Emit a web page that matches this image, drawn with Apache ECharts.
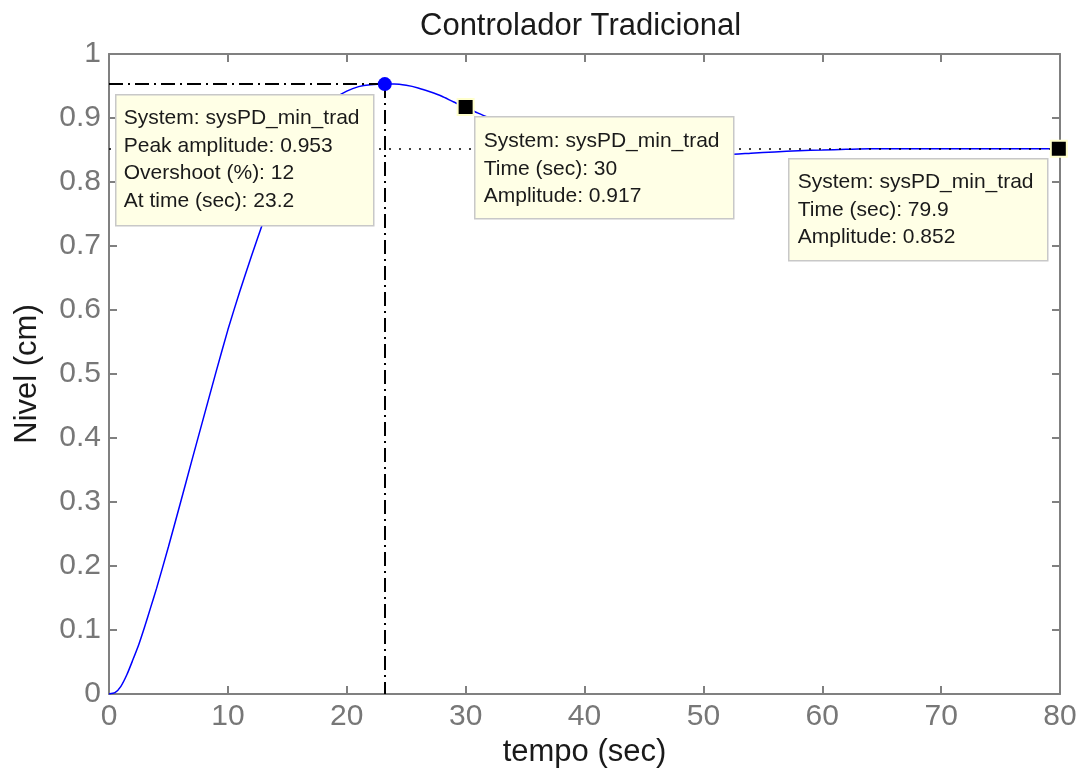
<!DOCTYPE html>
<html>
<head>
<meta charset="utf-8">
<title>Controlador Tradicional</title>
<script src="https://cdn.jsdelivr.net/npm/echarts@6/dist/echarts.min.js"></script>
<style>
  html, body { margin: 0; padding: 0; background: #fff; }
  #main { width: 1085px; height: 784px; }
</style>
</head>
<body>
<div id="main"></div>
<script>
// step response
var tempo = [0, 0.5, 1, 1.5, 2, 2.5, 3, 3.5, 4, 5, 6, 7, 8, 9, 10, 11, 12, 13, 14, 15,
  16, 17, 18, 19, 20, 21, 22, 23.2, 24, 25, 26, 27, 28, 29, 30, 31, 32, 33, 34, 35,
  36, 38, 40, 42, 44, 46, 48, 50, 52, 54, 56, 58, 60, 62, 64, 66, 70, 75, 79.9];
var nivel = [0, 0.002, 0.012, 0.03, 0.053, 0.077, 0.105, 0.135, 0.165, 0.23, 0.298, 0.367, 0.435, 0.503, 0.569, 0.629, 0.685, 0.739, 0.789, 0.832,
  0.866, 0.894, 0.915, 0.931, 0.942, 0.949, 0.952, 0.953, 0.953, 0.951, 0.947, 0.941, 0.934, 0.925, 0.917, 0.908, 0.9, 0.892, 0.884, 0.877,
  0.871, 0.861, 0.854, 0.849, 0.846, 0.844, 0.843, 0.843, 0.843, 0.845, 0.847, 0.849, 0.85, 0.851, 0.852, 0.852, 0.852, 0.852, 0.852];

var sysName = 'sysPD_min_trad';
var peakTime = 23.2;
var peakAmp = 0.953;
var overshoot = 12;
var finalValue = 0.852;
var tipTimes = [30, 79.9];
var tipAmps = [0.917, 0.852];

var xTicks = { min: 0, max: 80, interval: 10 };
var yTicks = { min: 0, max: 1, interval: 0.1 };

var lineData = [];
for (var i = 0; i < tempo.length; i++) {
  lineData.push([tempo[i], nivel[i]]);
}
var tipData = [];
for (var j = 0; j < tipTimes.length; j++) {
  tipData.push([tipTimes[j], tipAmps[j]]);
}

var FONT = '"Liberation Sans", Arial, sans-serif';
var axisGray = '#808080';
var labelGray = '#777';

function frameAxis(pos, showLabel, isX) {
  var ax = {
    type: 'value',
    position: pos,
    min: isX ? xTicks.min : yTicks.min,
    max: isX ? xTicks.max : yTicks.max,
    interval: isX ? xTicks.interval : yTicks.interval,
    axisLine: { show: true, onZero: false, lineStyle: { color: axisGray, width: 2 } },
    axisTick: { show: true, inside: true, length: 8, lineStyle: { color: axisGray, width: 2 } },
    splitLine: { show: false },
    axisLabel: {
      show: showLabel,
      fontFamily: FONT,
      fontSize: 30,
      color: labelGray,
      margin: 8
    }
  };
  return ax;
}

var xBottom = frameAxis('bottom', true, true);
xBottom.name = 'tempo (sec)';
xBottom.nameLocation = 'middle';
xBottom.nameGap = 42;
xBottom.nameTextStyle = { fontFamily: FONT, fontSize: 31, color: '#1a1a1a' };
var xTop = frameAxis('top', false, true);

var yLeft = frameAxis('left', true, false);
yLeft.name = 'Nivel (cm)';
yLeft.nameLocation = 'middle';
yLeft.nameGap = 66;
yLeft.nameTextStyle = { fontFamily: FONT, fontSize: 31, color: '#1a1a1a' };
var yRight = frameAxis('right', false, false);

function tipBox(left, top, w, h, lines, dx, dy) {
  return {
    type: 'group',
    left: left,
    top: top,
    z: 50,
    children: [
      {
        type: 'rect',
        shape: { x: 0, y: 0, width: w, height: h },
        style: { fill: '#ffffe6', stroke: '#c8c8c8', lineWidth: 1.5 },
        z: 50
      },
      {
        type: 'text',
        x: dx,
        y: dy,
        style: {
          text: lines.join('\n'),
          font: '21px ' + FONT,
          fill: '#1a1a1a',
          lineHeight: 27.5,
          verticalAlign: 'top'
        },
        z: 51
      }
    ]
  };
}

var chart = echarts.init(document.getElementById('main'));
chart.setOption({
  backgroundColor: '#fff',
  animation: false,
  title: {
    text: 'Controlador Tradicional',
    left: 415,
    top: 6,
    textStyle: { fontFamily: FONT, fontSize: 31, fontWeight: 'normal', color: '#1a1a1a' }
  },
  grid: { left: 109, right: 25, top: 54, bottom: 90 },
  xAxis: [xBottom, xTop],
  yAxis: [yLeft, yRight],
  series: [
    {
      type: 'line',
      data: lineData,
      showSymbol: false,
      smooth: 0.2,
      lineStyle: { color: '#0000ff', width: 1.5 },
      z: 3,
      markLine: {
        silent: true,
        symbol: 'none',
        label: { show: false },
        data: [
          [{ coord: [0, peakAmp] }, { coord: [peakTime, peakAmp] }],
          [{ coord: [peakTime, peakAmp] }, { coord: [peakTime, 0] }],
          [{ coord: [0, finalValue], lineStyle: { type: [2, 8], width: 1.5 } },
           { coord: [xTicks.max, finalValue] }]
        ],
        lineStyle: { color: '#000', width: 2, type: [14, 5, 2, 5] }
      }
    },
    {
      type: 'scatter',
      data: [[peakTime, peakAmp]],
      symbol: 'circle',
      symbolSize: 14,
      itemStyle: { color: '#0000ff', opacity: 1 },
      z: 60
    },
    {
      type: 'scatter',
      data: tipData,
      symbol: 'rect',
      symbolSize: 16,
      itemStyle: { color: '#000', opacity: 1, borderColor: '#ffffcc', borderWidth: 2 },
      z: 60
    }
  ],
  graphic: [
    tipBox(115, 94, 258, 131, [
      'System: ' + sysName,
      'Peak amplitude: ' + peakAmp,
      'Overshoot (%): ' + overshoot,
      'At time (sec): ' + peakTime
    ], 8, 10),
    tipBox(474, 116, 259, 102, [
      'System: ' + sysName,
      'Time (sec): ' + tipTimes[0],
      'Amplitude: ' + tipAmps[0]
    ], 9, 11),
    tipBox(788, 158, 259, 102, [
      'System: ' + sysName,
      'Time (sec): ' + tipTimes[1],
      'Amplitude: ' + tipAmps[1]
    ], 9, 10)
  ]
});
</script>
</body>
</html>
